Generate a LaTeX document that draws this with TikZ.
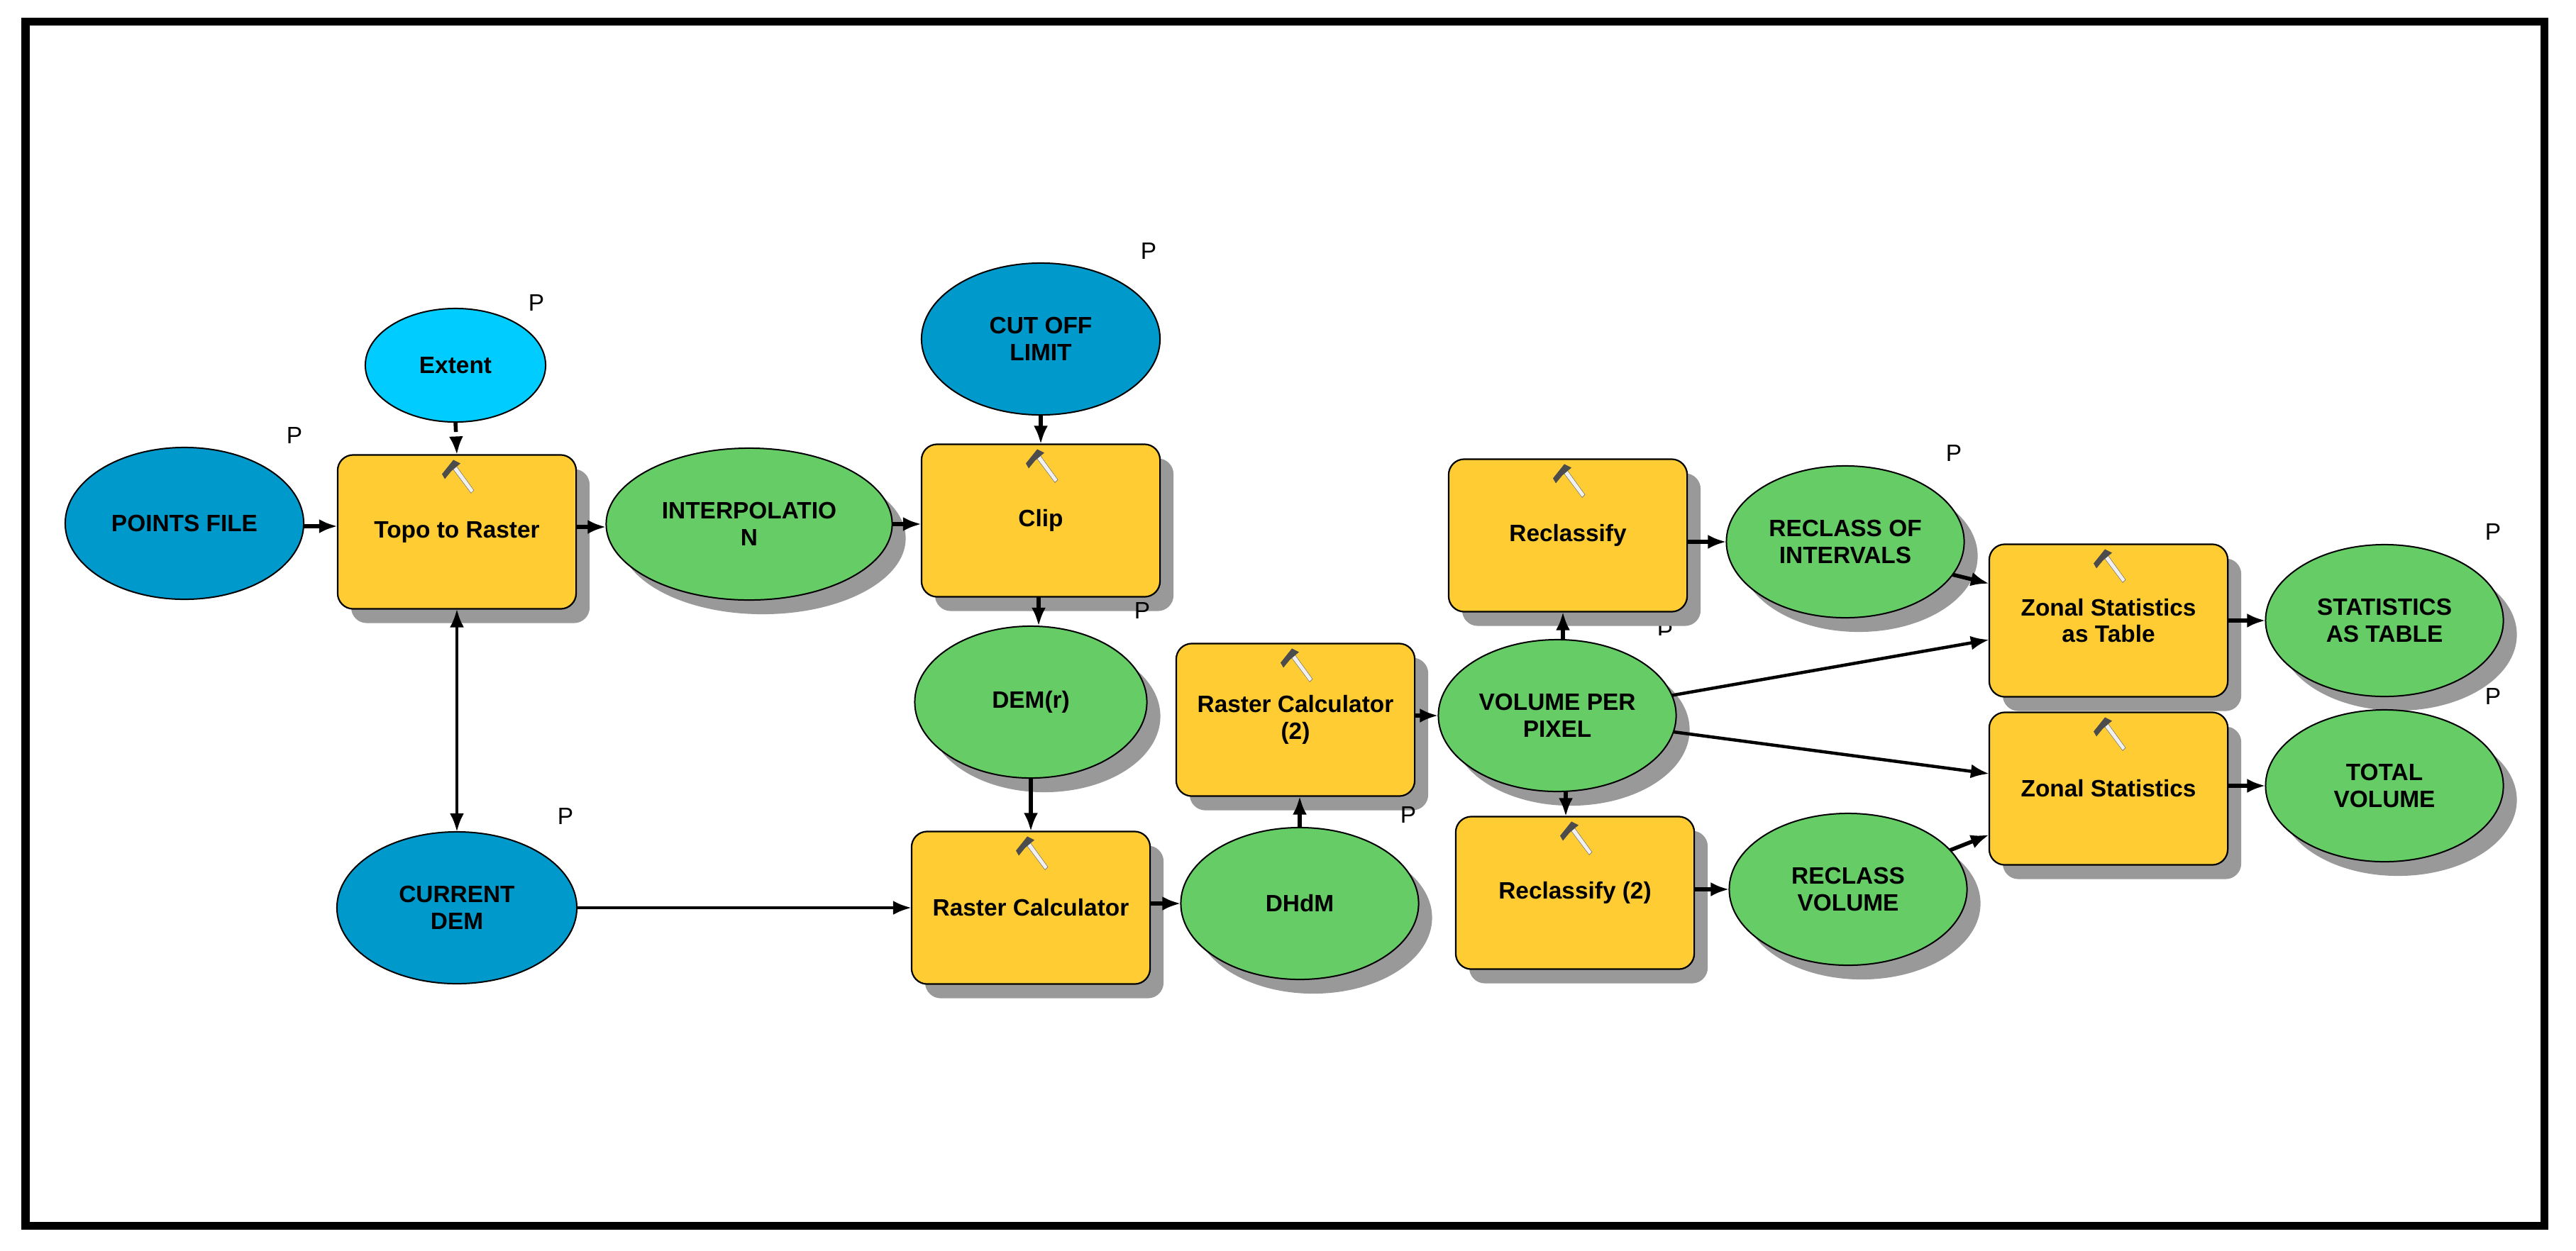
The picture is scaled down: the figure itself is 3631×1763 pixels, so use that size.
\documentclass[tikz,border=0pt]{standalone}
\usepackage{fontspec}
\setmainfont{Liberation Sans}
\usetikzlibrary{shapes.geometric,shadows,arrows.meta,calc}
\definecolor{procorange}{HTML}{FFCC33}
\definecolor{outgreen}{HTML}{66CC66}
\definecolor{inblue}{HTML}{0099CC}
\definecolor{incyan}{HTML}{00CCFF}
\definecolor{shadegray}{HTML}{999999}
\tikzset{
  x=0.01cm,y=-0.01cm,
  shade/.style={drop shadow={shadow xshift=0.19cm,shadow yshift=-0.2cm,fill=shadegray,opacity=1}},
  label text/.style={font=\fontsize{9.5}{10.7}\selectfont\bfseries,align=center,text=black,inner sep=0pt,outer sep=0pt},
  procbox/.style={label text,rectangle,rounded corners=0.22cm,draw=black,line width=0.022cm,fill=procorange,minimum width=3.36cm,minimum height=2.15cm,shade},
  outell/.style={label text,ellipse,draw=black,line width=0.02cm,fill=outgreen,minimum width=3.35cm,minimum height=2.14cm,shade},
  inell/.style={label text,ellipse,draw=black,line width=0.02cm,fill=inblue,minimum width=3.36cm,minimum height=2.14cm},
  pmark/.style={font=\fontsize{9.5}{10}\selectfont,inner sep=0pt,outer sep=0pt,text=black},
  flow/.style={draw=black,line width=0.055cm,-{Latex[length=0.26cm,width=0.2cm]}},
  longflow/.style={draw=black,line width=0.045cm,-{Latex[length=0.26cm,width=0.2cm]}},
  framebox/.style={draw=black,line width=0.11cm,fill=white},
  hammerpic/.pic={
    \fill[draw=gray!70!black,line width=0.004cm,fill=black!6] (-7,18) -- (-2,14) -- (24,50) -- (20,54) -- cycle;
    \fill[black!70] (-21,27) -- (-5,7) -- (5,12) -- (-8,23) -- (-17,34) -- cycle;
  }
}
\begin{document}
\begin{tikzpicture}
\useasboundingbox (0,0) rectangle (3631,1763);
\fill[white] (0,0) rectangle (3631,1763);
\draw[framebox] (36,30) rectangle (3586,1728);

% partly hidden marker
\begin{scope}
\clip (2330,882) rectangle (2365,895);
\node[pmark] (pvol) at (2347,890) {P};
\end{scope}

% inputs
\node[inell,fill=incyan,minimum width=2.54cm,minimum height=1.6cm] (extent) at (642,515) {Extent};
\node[inell] (points) at (260,738) {POINTS FILE};
\node[inell] (cutoff) at (1467,478) {CUT OFF\\LIMIT};
\node[inell,minimum width=3.38cm] (cdem) at (644,1280) {CURRENT\\DEM};

% tools
\node[procbox,minimum height=2.17cm] (topo) at (644,750) {Topo to Raster};
\node[procbox] (clip) at (1467,734) {Clip};
\node[procbox] (rctwo) at (1826,1015) {Raster Calculator\\(2)};
\node[procbox] (rc) at (1453,1280) {Raster Calculator};
\node[procbox] (recl) at (2210,755) {Reclassify};
\node[procbox] (recltwo) at (2220,1259) {Reclassify (2)};
\node[procbox] (zt) at (2972,875) {Zonal Statistics\\as Table};
\node[procbox] (zs) at (2972,1112) {Zonal Statistics};

% outputs
\node[outell,minimum width=4.03cm] (interp) at (1056,739) {INTERPOLATIO\\N};
\node[outell,minimum width=3.27cm] (demr) at (1453,990) {DEM(r)};
\node[outell] (dhdm) at (1832,1274) {DHdM};
\node[outell] (vol) at (2195,1009) {VOLUME PER\\PIXEL};
\node[outell] (reclof) at (2601,764) {RECLASS OF\\INTERVALS};
\node[outell] (reclvol) at (2605,1254) {RECLASS\\VOLUME};
\node[outell] (stat) at (3361,875) {STATISTICS\\AS TABLE};
\node[outell] (total) at (3361,1108) {TOTAL\\VOLUME};

% hammers
\foreach \b in {topo,clip,rctwo,rc,recl,recltwo,zt,zs}{
  \pic at (\b.north) {hammerpic};
}

% connectors
\draw[flow] ([yshift=-0.04cm]points.east) -- ([yshift=-0.04cm]points.east -| topo.west);
\draw[flow] ([yshift=-0.04cm]interp.west -| topo.east) -- ([yshift=-0.04cm]interp.west);
\draw[draw=black,line width=0.055cm,dash pattern=on 0.14cm off 0.07cm,-{Latex[length=0.26cm,width=0.2cm]}] (extent.south) -- (topo.north);
\draw[longflow,{Latex[length=0.26cm,width=0.2cm]}-{Latex[length=0.26cm,width=0.2cm]}] (topo.south) -- (cdem.north);
\draw[flow] (interp.east) -- (interp.east -| clip.west);
\draw[flow] (cutoff.south) -- (clip.north);
\draw[flow] ([xshift=-0.03cm]clip.south) -- ([xshift=-0.03cm]clip.south |- demr.north);
\draw[flow] (demr.south) -- (rc.north);
\draw[longflow] (cdem.east) -- (cdem.east -| rc.west);
\draw[flow] (dhdm.west -| rc.east) -- (dhdm.west);
\draw[flow] (dhdm.north) -- (dhdm.north |- rctwo.south);
\draw[flow] (vol.west -| rctwo.east) -- (vol.west);
\draw[flow] ([xshift=0.08cm]vol.north) -- ([xshift=0.08cm]vol.north |- recl.south);
\draw[flow] ([xshift=0.12cm]vol.south) -- ([xshift=0.12cm]vol.south |- recltwo.north);
\draw[flow] (reclof.west -| recl.east) -- (reclof.west);
\draw[flow] (reclvol.west -| recltwo.east) -- (reclvol.west);
\draw[flow] (reclof.-17.7) -- ([yshift=0.52cm]zt.west);
\draw[longflow] (vol.10) -- ([yshift=-0.27cm]zt.west);
\draw[longflow] (vol.-8.3) -- ([yshift=0.21cm]zs.west);
\draw[flow] (reclvol.21) -- ([yshift=-0.65cm]zs.west);
\draw[flow] (zt.east) -- (stat.west);
\draw[flow] (total.west -| zs.east) -- (total.west);

% parameter markers
\node[pmark] (p1) at (415,614) {P};
\node[pmark] (p2) at (756,427) {P};
\node[pmark] (p3) at (1619,354) {P};
\node[pmark] (p4) at (1610,861) {P};
\node[pmark] (p5) at (797,1151) {P};
\node[pmark] (p6) at (1985,1149) {P};
\node[pmark] (p7) at (2754,639) {P};
\node[pmark] (p8) at (3514,750) {P};
\node[pmark] (p9) at (3514,982) {P};
\end{tikzpicture}
\end{document}
